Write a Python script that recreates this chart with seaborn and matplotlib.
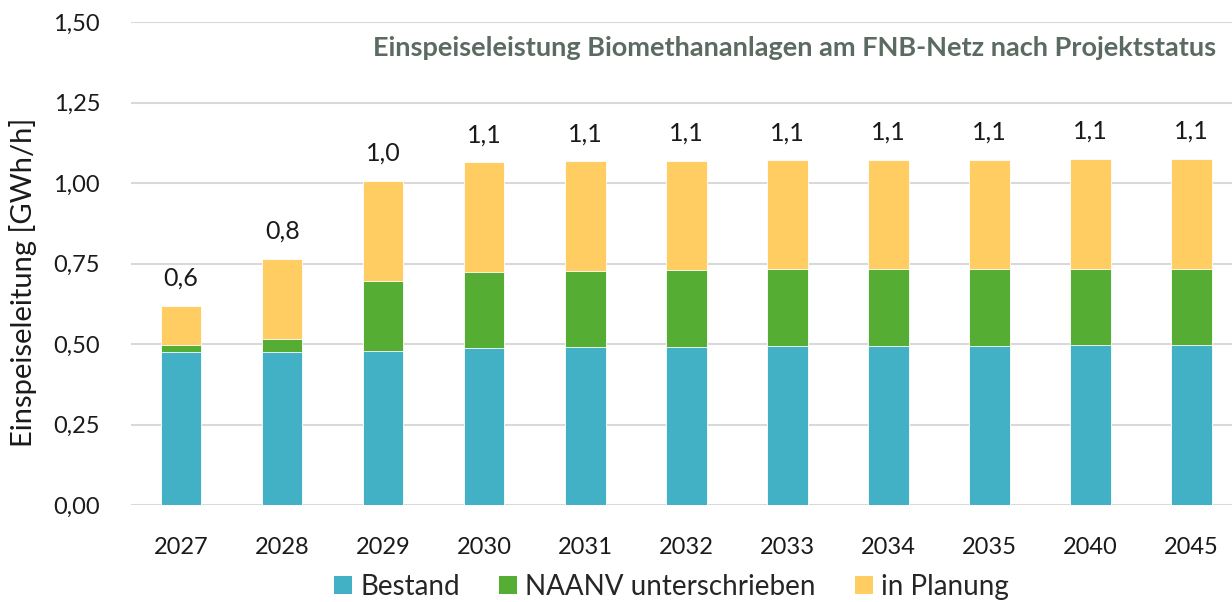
import numpy as np
import pandas as pd
import seaborn as sns
import matplotlib.pyplot as plt
from matplotlib.patches import Patch

years = ['2027', '2028', '2029', '2030', '2031', '2032', '2033', '2034', '2035', '2040', '2045']
bestand = [0.476, 0.476, 0.479, 0.487, 0.490, 0.491, 0.493, 0.494, 0.494, 0.497, 0.497]
naanv = [0.022, 0.040, 0.218, 0.237, 0.238, 0.238, 0.239, 0.239, 0.239, 0.238, 0.238]
planung = [0.121, 0.249, 0.310, 0.341, 0.340, 0.340, 0.339, 0.339, 0.339, 0.340, 0.340]

series_names = ['Bestand', 'NAANV unterschrieben', 'in Planung']
colors = ['#42B0C5', '#55AD33', '#FFCD61']

df = pd.DataFrame({'Jahr': years, 'Bestand': bestand,
                   'NAANV unterschrieben': naanv, 'in Planung': planung})
df['cum1'] = df['Bestand']
df['cum2'] = df['cum1'] + df['NAANV unterschrieben']
df['cum3'] = df['cum2'] + df['in Planung']

sns.set_style('white')
plt.rcParams['font.family'] = ['Lato', 'DejaVu Sans']

fig = plt.figure(figsize=(12.32, 6.02), dpi=100)
ax = fig.add_axes([0.106, 0.161, 0.894, 0.802])

# stacked bars: draw cumulative totals from the top down
for col, c in zip(['cum3', 'cum2', 'cum1'], colors[::-1]):
    sns.barplot(data=df, x='Jahr', y=col, color=c, width=0.4, saturation=1,
                edgecolor='white', linewidth=0.6, ax=ax, zorder=3)

for i, tot in enumerate(df['cum3']):
    ax.text(i, tot + 0.05, f'{tot:.1f}'.replace('.', ','), ha='center', va='bottom',
            fontsize=18, color='#1a1a1a')

ax.set_ylim(0, 1.5)
ax.set_xlim(-0.5, 10.4)
ticks = np.arange(0, 1.51, 0.25)
ax.set_yticks(ticks)
ax.set_yticklabels([f'{t:.2f}'.replace('.', ',') for t in ticks])
ax.yaxis.grid(True, color='#d9d9d9', linewidth=1.5, zorder=0)
ax.set_axisbelow(True)
sns.despine(ax=ax, left=True, bottom=True)
ax.tick_params(axis='both', length=0, labelsize=17, colors='#1a1a1a')
ax.tick_params(axis='y', pad=22)
ax.tick_params(axis='x', pad=23)
ax.set_xlabel('')
ax.set_ylabel('Einspeiseleitung [GWh/h]', fontsize=21, color='#1a1a1a')
ax.yaxis.set_label_coords(-0.085, 0.462)

ax.text(0.9855, 0.946, 'Einspeiseleistung Biomethananlagen am FNB-Netz nach Projektstatus',
        transform=ax.transAxes, ha='right', va='center', fontsize=19.5,
        fontweight='bold', color='#5B6B62')

handles = [Patch(facecolor=c, edgecolor='none') for c in colors]
fig.legend(handles, series_names, loc='center', bbox_to_anchor=(0.545, 0.025),
           ncol=3, frameon=False, fontsize=20, handlelength=0.65, handleheight=0.65,
           handletextpad=0.3, columnspacing=1.4)

fig.savefig('out.png', dpi=100)
